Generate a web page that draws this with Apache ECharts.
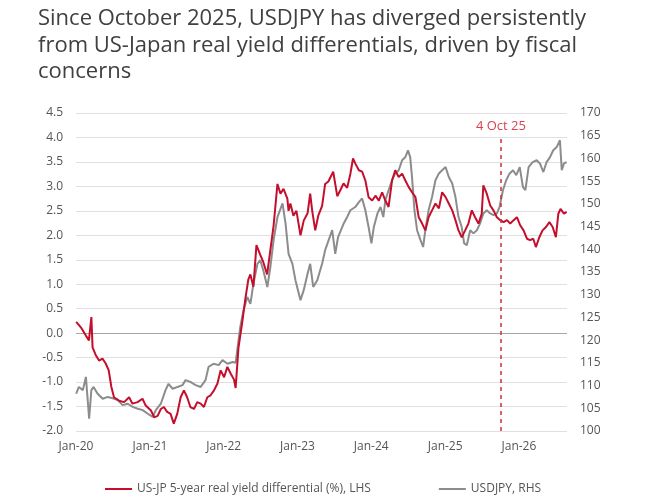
<!DOCTYPE html>
<html>
<head>
<meta charset="utf-8">
<script src="https://cdn.jsdelivr.net/npm/echarts@6/dist/echarts.min.js"></script>
<style>
html, body { margin: 0; padding: 0; background: #fff; }
#main { width: 663px; height: 501px; }
</style>
</head>
<body>
<div id="main"></div>
<script>
var titleText = 'Since October 2025, USDJPY has diverged persistently\nfrom US-Japan real yield differentials, driven by fiscal\nconcerns';
var spreadName = 'US-JP 5-year real yield differential (%), LHS';
var usdjpyName = 'USDJPY, RHS';
var markerDate = '2025-10-04';
var markerLabel = '4 Oct 25';

// US-JP 5y real yield differential, % (left axis)
var spreadData = [
  ['2020-01-02', 0.23], ['2020-01-25', 0.12], ['2020-02-19', -0.05], ['2020-03-05', -0.15],
  ['2020-03-17', 0.33], ['2020-03-23', -0.29], ['2020-04-08', -0.45], ['2020-04-24', -0.56],
  ['2020-05-11', -0.52], ['2020-05-27', -0.62], ['2020-06-11', -0.76], ['2020-06-24', -1.10],
  ['2020-07-07', -1.31], ['2020-08-01', -1.38], ['2020-08-26', -1.41], ['2020-09-20', -1.31],
  ['2020-10-06', -1.44], ['2020-11-01', -1.41], ['2020-11-25', -1.34], ['2020-12-11', -1.48],
  ['2021-01-06', -1.58], ['2021-01-22', -1.72], ['2021-02-08', -1.69], ['2021-02-24', -1.55],
  ['2021-03-11', -1.51], ['2021-03-27', -1.61], ['2021-04-13', -1.65], ['2021-04-29', -1.85],
  ['2021-05-16', -1.65], ['2021-06-02', -1.31], ['2021-06-18', -1.17], ['2021-07-04', -1.31],
  ['2021-07-20', -1.51], ['2021-08-07', -1.55], ['2021-08-23', -1.41], ['2021-09-09', -1.44],
  ['2021-09-25', -1.51], ['2021-10-12', -1.31], ['2021-10-28', -1.27], ['2021-11-14', -1.17],
  ['2021-12-01', -1.03], ['2021-12-17', -0.76], ['2022-01-03', -0.90], ['2022-01-19', -0.69],
  ['2022-02-05', -0.83], ['2022-02-21', -0.95], ['2022-03-01', -1.12], ['2022-03-15', -0.30],
  ['2022-04-02', 0.20], ['2022-04-18', 0.70], ['2022-05-03', 1.10], ['2022-05-13', 1.20],
  ['2022-05-28', 0.95], ['2022-06-12', 1.80], ['2022-07-01', 1.60], ['2022-07-16', 1.45],
  ['2022-08-04', 1.20], ['2022-08-20', 1.70], ['2022-09-05', 2.20], ['2022-09-24', 3.05],
  ['2022-10-09', 2.85], ['2022-10-24', 2.95], ['2022-11-12', 2.75], ['2022-11-18', 2.50],
  ['2022-11-27', 2.65], ['2022-12-12', 2.40], ['2022-12-27', 2.50], ['2023-01-16', 2.00],
  ['2023-02-01', 2.30], ['2023-02-20', 2.45], ['2023-03-05', 2.85], ['2023-03-15', 2.50],
  ['2023-03-30', 2.10], ['2023-04-14', 2.40], ['2023-05-03', 2.60], ['2023-05-18', 3.05],
  ['2023-06-03', 3.10], ['2023-06-27', 3.30], ['2023-07-17', 2.80], ['2023-08-01', 2.92],
  ['2023-08-17', 3.06], ['2023-09-04', 2.97], ['2023-09-20', 3.26], ['2023-10-03', 3.57],
  ['2023-10-14', 3.47], ['2023-11-01', 3.33], ['2023-11-17', 3.30], ['2023-12-03', 3.12],
  ['2023-12-19', 2.78], ['2024-01-06', 2.71], ['2024-01-22', 2.81], ['2024-02-08', 2.71],
  ['2024-02-24', 2.88], ['2024-03-11', 2.71], ['2024-03-27', 2.58], ['2024-04-13', 3.12],
  ['2024-04-29', 3.33], ['2024-05-16', 3.19], ['2024-06-02', 3.26], ['2024-06-18', 3.12],
  ['2024-07-04', 2.99], ['2024-07-21', 2.88], ['2024-08-07', 2.78], ['2024-08-23', 2.37],
  ['2024-09-09', 2.24], ['2024-09-25', 2.10], ['2024-10-11', 2.37], ['2024-10-28', 2.51],
  ['2024-11-14', 2.65], ['2024-12-01', 2.55], ['2024-12-17', 2.88], ['2025-01-03', 2.78],
  ['2025-01-19', 2.65], ['2025-02-05', 2.51], ['2025-02-21', 2.31], ['2025-03-08', 2.10],
  ['2025-03-24', 1.96], ['2025-04-10', 2.10], ['2025-04-26', 2.24], ['2025-05-13', 2.51],
  ['2025-05-29', 2.37], ['2025-06-15', 2.24], ['2025-07-01', 2.44], ['2025-07-09', 3.02],
  ['2025-07-26', 2.85], ['2025-08-12', 2.61], ['2025-08-28', 2.51], ['2025-09-14', 2.37],
  ['2025-10-01', 2.31], ['2025-10-17', 2.27], ['2025-11-03', 2.31], ['2025-11-19', 2.24],
  ['2025-12-06', 2.31], ['2025-12-22', 2.37], ['2026-01-08', 2.20], ['2026-01-24', 2.10],
  ['2026-02-10', 1.93], ['2026-02-25', 1.90], ['2026-03-13', 1.93], ['2026-03-26', 1.76],
  ['2026-04-12', 1.96], ['2026-04-28', 2.10], ['2026-05-15', 2.17], ['2026-06-01', 2.27],
  ['2026-06-17', 2.17], ['2026-07-03', 1.96], ['2026-07-15', 2.44], ['2026-07-26', 2.54],
  ['2026-08-12', 2.44], ['2026-08-25', 2.48]
];

// USDJPY (right axis)
var usdjpyData = [
  ['2020-01-02', 108.2], ['2020-01-15', 109.7], ['2020-02-04', 109.0], ['2020-02-19', 111.9],
  ['2020-03-06', 102.7], ['2020-03-17', 109.0], ['2020-03-28', 109.7], ['2020-04-17', 108.2],
  ['2020-05-12', 107.1], ['2020-06-06', 107.5], ['2020-07-01', 107.2], ['2020-07-25', 106.8],
  ['2020-08-19', 105.7], ['2020-09-13', 106.0], ['2020-10-08', 105.3], ['2020-11-02', 104.9],
  ['2020-11-26', 104.6], ['2020-12-21', 103.8], ['2021-01-15', 103.1], ['2021-01-30', 104.6],
  ['2021-02-24', 106.0], ['2021-03-19', 109.0], ['2021-04-03', 110.4], ['2021-04-23', 109.3],
  ['2021-05-17', 109.7], ['2021-06-11', 110.1], ['2021-06-26', 111.2], ['2021-07-20', 110.8],
  ['2021-08-15', 110.1], ['2021-09-09', 109.7], ['2021-10-03', 111.2], ['2021-10-18', 114.1],
  ['2021-11-12', 114.8], ['2021-12-07', 114.5], ['2021-12-26', 115.6], ['2022-01-20', 114.8],
  ['2022-02-15', 115.2], ['2022-03-01', 115.0], ['2022-03-24', 122.9], ['2022-04-09', 126.6],
  ['2022-04-28', 129.5], ['2022-05-13', 128.0], ['2022-05-28', 132.4], ['2022-06-17', 136.8],
  ['2022-07-01', 137.6], ['2022-07-16', 135.4], ['2022-08-05', 131.7], ['2022-08-20', 136.1],
  ['2022-09-05', 142.0], ['2022-09-24', 147.1], ['2022-10-19', 150.1], ['2022-11-03', 145.7],
  ['2022-11-18', 139.0], ['2022-12-07', 136.8], ['2022-12-22', 133.2], ['2023-01-16', 128.8],
  ['2023-02-01', 131.0], ['2023-02-20', 134.6], ['2023-03-05', 136.8], ['2023-03-20', 131.7],
  ['2023-04-09', 133.2], ['2023-05-03', 136.8], ['2023-05-18', 139.8], ['2023-06-22', 144.2],
  ['2023-07-07', 139.0], ['2023-07-21', 142.7], ['2023-08-16', 145.5], ['2023-09-04', 147.1],
  ['2023-09-20', 148.6], ['2023-10-14', 149.3], ['2023-11-01', 150.4], ['2023-11-17', 151.2],
  ['2023-12-03', 148.6], ['2023-12-19', 144.9], ['2024-01-02', 141.3], ['2024-01-14', 144.9],
  ['2024-02-01', 147.9], ['2024-02-16', 149.3], ['2024-03-01', 147.1], ['2024-03-11', 150.8],
  ['2024-03-27', 153.0], ['2024-04-13', 155.2], ['2024-04-29', 156.7], ['2024-05-16', 157.4],
  ['2024-06-02', 159.6], ['2024-06-18', 160.3], ['2024-07-01', 161.8], ['2024-07-12', 160.3],
  ['2024-07-21', 155.9], ['2024-08-02', 148.6], ['2024-08-15', 144.2], ['2024-09-01', 142.0],
  ['2024-09-14', 140.5], ['2024-09-25', 144.2], ['2024-10-11', 148.6], ['2024-10-28', 151.5],
  ['2024-11-14', 155.2], ['2024-12-01', 156.7], ['2024-12-17', 157.4], ['2025-01-03', 158.1],
  ['2025-01-19', 155.9], ['2025-02-05', 154.5], ['2025-02-21', 151.5], ['2025-03-08', 147.1],
  ['2025-03-24', 144.9], ['2025-04-05', 141.3], ['2025-04-18', 140.9], ['2025-05-05', 144.2],
  ['2025-05-21', 143.5], ['2025-06-07', 144.2], ['2025-06-23', 145.7], ['2025-07-09', 147.9],
  ['2025-07-26', 148.6], ['2025-08-12', 147.9], ['2025-08-28', 147.5], ['2025-09-14', 147.9],
  ['2025-09-27', 149.3], ['2025-10-14', 153.0], ['2025-10-30', 155.2], ['2025-11-16', 156.7],
  ['2025-12-03', 157.4], ['2025-12-19', 156.3], ['2026-01-05', 158.1], ['2026-01-21', 153.7],
  ['2026-02-02', 153.0], ['2026-02-18', 158.1], ['2026-03-10', 159.2], ['2026-03-30', 159.6],
  ['2026-04-15', 158.9], ['2026-05-02', 157.0], ['2026-05-18', 159.2], ['2026-06-04', 160.3],
  ['2026-06-20', 161.8], ['2026-07-07', 162.5], ['2026-07-23', 164.0], ['2026-08-01', 157.4],
  ['2026-08-12', 158.9], ['2026-08-25', 159.2]
];

var RED = '#c40e2c';
var GREY = '#8c8c8c';
var YEAR = 365 * 24 * 3600 * 1000;

// light grid lines, darker line at zero (index 4 from -2.0)
var gridColors = [];
for (var i = 0; i < 14; i++) gridColors.push(i === 4 ? '#a6a6a6' : '#e0e0e0');

var myChart = echarts.init(document.getElementById('main'));

var option = {
    backgroundColor: '#fff',
    animation: false,
    textStyle: { fontFamily: 'Open Sans' },
    title: {
        text: titleText,
        left: 33,
        top: 1,
        textStyle: {
            fontFamily: 'Open Sans',
            fontSize: 22,
            lineHeight: 26.3,
            fontWeight: 'normal',
            color: '#404040'
        }
    },
    legend: {
        left: 100,
        top: 478,
        itemWidth: 27,
        itemHeight: 2,
        itemGap: 68,
        icon: 'rect',
        textStyle: { fontSize: 12, color: '#555', fontFamily: 'Open Sans' },
        data: [spreadName, usdjpyName]
    },
    grid: { left: 76, right: 96, top: 113, bottom: 70 },
    xAxis: {
        type: 'time',
        min: new Date(2020, 0, 1).getTime(),
        max: new Date(2026, 7, 27).getTime(),
        minInterval: YEAR,
        maxInterval: YEAR + 24 * 3600 * 1000,
        axisLine: { show: false },
        axisTick: { show: false },
        splitLine: { show: false },
        axisLabel: {
            color: '#555',
            fontSize: 12,
            margin: 10,
            showMinLabel: true,
            formatter: function (v) {
                var d = new Date(v);
                if (d.getMonth() !== 0) return '';
                return 'Jan-' + String(d.getFullYear()).slice(2);
            }
        }
    },
    yAxis: [
        {
            type: 'value',
            min: -2,
            max: 4.5,
            interval: 0.5,
            axisLine: { show: false },
            axisTick: { show: false },
            splitLine: { lineStyle: { color: gridColors, width: 1 } },
            axisLabel: {
                color: '#555',
                fontSize: 12,
                margin: 13,
                formatter: function (v) { return v.toFixed(1); }
            }
        },
        {
            type: 'value',
            min: 100,
            max: 170,
            interval: 5,
            axisLine: { show: false },
            axisTick: { show: false },
            splitLine: { show: false },
            axisLabel: { color: '#555', fontSize: 12, margin: 13 }
        }
    ],
    series: [
        {
            name: usdjpyName,
            type: 'line',
            yAxisIndex: 1,
            showSymbol: false,
            z: 2,
            lineStyle: { color: GREY, width: 2 },
            itemStyle: { color: GREY },
            data: usdjpyData
        },
        {
            name: spreadName,
            type: 'line',
            yAxisIndex: 0,
            showSymbol: false,
            z: 3,
            lineStyle: { color: RED, width: 2 },
            itemStyle: { color: RED },
            data: spreadData,
            markLine: {
                silent: true,
                symbol: 'none',
                lineStyle: { color: '#d42a3a', type: [4, 4], width: 1.5 },
                label: {
                    show: true,
                    position: 'end',
                    formatter: markerLabel,
                    color: '#d9434f',
                    fontSize: 13,
                    distance: 5
                },
                data: [[
                    { coord: [markerDate, -2] },
                    { coord: [markerDate, 4.0] }
                ]]
            }
        }
    ]
};

myChart.setOption(option);
window.onresize = myChart.resize;
</script>
</body>
</html>
